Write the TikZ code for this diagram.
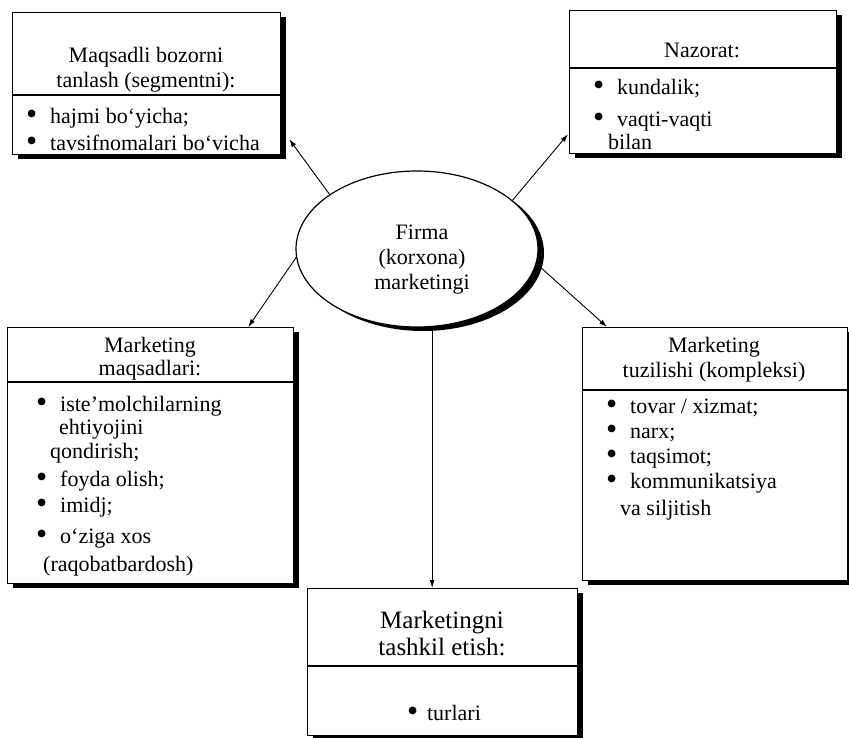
\documentclass[tikz,border=0pt]{standalone}
\usepackage{fontspec}
\usepackage{graphicx}
\setmainfont{Liberation Serif}
\usetikzlibrary{arrows.meta,shapes.geometric,shadows}
\def\blob{\smash{\raisebox{-1pt}{\scalebox{1.45}{•}}}}
\def\blt{\makebox[24pt][l]{\blob}}
\tikzset{
  panel/.style={draw, line width=1.2pt, fill=white, anchor=north west, inner sep=0pt,
    drop shadow={shadow xshift=5pt, shadow yshift=-4pt, opacity=1, fill=black}},
  hub/.style={ellipse, draw, line width=1.2pt, fill=white, inner sep=0pt,
    minimum width=242pt, minimum height=156pt,
    drop shadow={shadow xshift=6pt, shadow yshift=-4pt, opacity=1, fill=black}},
  rule/.style={line width=1.2pt},
  txt/.style={inner sep=0pt, font=\fontsize{22pt}{25pt}\selectfont},
  bigtxt/.style={inner sep=0pt, font=\fontsize{25pt}{28pt}\selectfont},
  arr/.style={-{Latex[length=8pt,width=5pt]}, line width=0.9pt}
}

\begin{document}
\begin{tikzpicture}[x=1pt, y=-1pt]
			%%%%% START %%%%%
			\useasboundingbox (0,0) rectangle (849,738);
			
			\node[hub] (firm) at (417,249) {};
			\node[txt, anchor=base] (firm1) at (422,240) {Firma};
			\node[txt, anchor=base] (firm2) at (422,265) {(korxona)};
			\node[txt, anchor=base] (firm3) at (422,290) {marketingi};
			
			% target market
			\node[panel, minimum width=268pt, minimum height=142pt] (target) at (12,12) {};
			\draw[rule] (target.west |- 0,95) -- (target.east |- 0,95);
			\node[txt, anchor=base] (target1) at (146,63) {Maqsadli bozorni};
			\node[txt, anchor=base] (target2) at (146,88) {tanlash (segmentni):};
			\node[txt, anchor=base west] (target3) at (26,124) {\blt hajmi bo‘yicha;};
			\node[txt, anchor=base west] (target4) at (26,151) {\blt tavsifnomalari bo‘vicha};
			
			% control
			\node[panel, minimum width=267pt, minimum height=143pt] (control) at (569,10) {};
			\draw[rule] (control.west |- 0,68) -- (control.east |- 0,68);
			\node[txt, anchor=base] (control1) at (702,58) {Nazorat:};
			\node[txt, anchor=base west] (control2) at (593,95) {\blt kundalik;};
			\node[txt, anchor=base west] (control3) at (593,127) {\blt vaqti-vaqti};
			\node[txt, anchor=base west] (control4) at (608,150) {bilan};
			
			% goals
			\node[panel, minimum width=286pt, minimum height=256pt] (goals) at (7,327) {};
			\draw[rule] (goals.west |- 0,382) -- (goals.east |- 0,382);
			\node[txt, anchor=base] (goals1) at (150,352) {Marketing};
			\node[txt, anchor=base] (goals2) at (150,375) {maqsadlari:};
			\node[txt, anchor=base west] (goals3) at (36,411) {\blt iste’molchilarning};
			\node[txt, anchor=base west] (goals4) at (59,434) {ehtiyojini};
			\node[txt, anchor=base west] (goals5) at (50,458) {qondirish;};
			\node[txt, anchor=base west] (goals6) at (36,486) {\blt foyda olish;};
			\node[txt, anchor=base west] (goals7) at (36,512) {\blt imidj;};
			\node[txt, anchor=base west] (goals8) at (36,543) {\blt o‘ziga xos};
			\node[txt, anchor=base west] (goals9) at (43,571) {(raqobatbardosh)};
			
			% mix
			\node[panel, minimum width=265pt, minimum height=253pt] (mix) at (582,327) {};
			\draw[rule] (mix.west |- 0,390) -- (mix.east |- 0,390);
			\node[txt, anchor=base] (mix1) at (714,352) {Marketing};
			\node[txt, anchor=base] (mix2) at (714,377) {tuzilishi (kompleksi)};
			\node[txt, anchor=base west] (mix3) at (606,413) {\blt tovar / xizmat;};
			\node[txt, anchor=base west] (mix4) at (606,438) {\blt narx;};
			\node[txt, anchor=base west] (mix5) at (606,463) {\blt taqsimot;};
			\node[txt, anchor=base west] (mix6) at (606,488) {\blt kommunikatsiya};
			\node[txt, anchor=base west] (mix7) at (620,515) {va siljitish};
			
			% organisation
			\node[panel, minimum width=270pt, minimum height=147pt] (org) at (307,588) {};
			\draw[rule] (org.west |- 0,666) -- (org.east |- 0,666);
			\node[bigtxt, anchor=base] (org1) at (442,628) {Marketingni};
			\node[bigtxt, anchor=base] (org2) at (442,655) {tashkil etish:};
			\node[txt, anchor=base] (org3) at (444,720) {\makebox[20pt][l]{\blob}turlari};
			
			% arrows
			\draw[arr] (firm.148) -- ([shift={(8,-16)}]target.south east);
			\draw[arr] (firm.27) -- ([shift={(-1,-20)}]control.south west);
			\draw[arr] (firm.184) -- ([xshift=-46pt]goals.north east);
			\draw[arr] (firm.353) -- ([xshift=25pt]mix.north west);
			\draw[arr] (firm.281) -- (firm.281 |- org.north);
			
			%%%%% END %%%%%
\end{tikzpicture}
\end{document}
